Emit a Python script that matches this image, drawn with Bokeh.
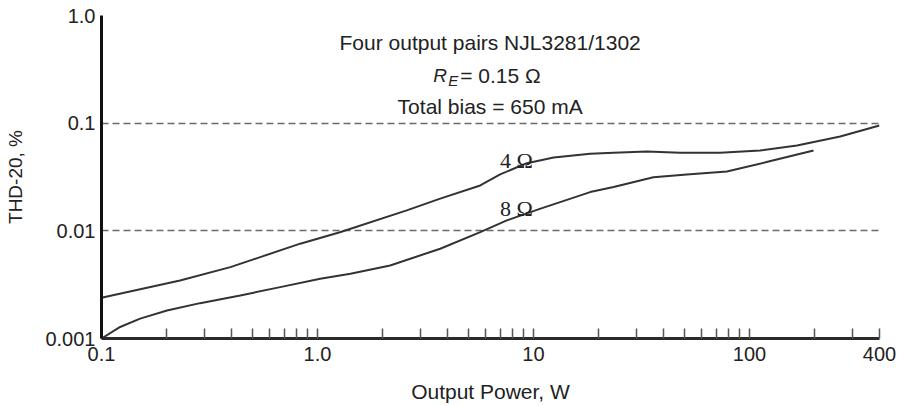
from bokeh.plotting import figure
from bokeh.models import FixedTicker, Range1d
from bokeh.embed import file_html
from bokeh.resources import INLINE
from bokeh.core.properties import value

# ---- data ----
power_4ohm = [0.1, 0.231, 0.395, 0.543, 0.832, 1.27, 2.59, 3.70, 5.67, 7.01, 8.08, 9.32,
              12.4, 18.3, 23.5, 33.5, 47.8, 73.2, 112, 166, 263, 400]
thd_4ohm = [0.00239, 0.00346, 0.0046, 0.0057, 0.0076, 0.0097, 0.0155, 0.0199, 0.0264,
            0.0335, 0.0377, 0.0425, 0.048, 0.052, 0.0531, 0.0546, 0.0531, 0.0531,
            0.0558, 0.0621, 0.0752, 0.0952]
power_8ohm = [0.1, 0.122, 0.151, 0.201, 0.286, 0.439, 0.672, 1.03, 1.42, 2.17, 3.70,
              5.67, 7.53, 10.7, 18.3, 23.5, 35.9, 51.3, 78.6, 120, 198]
thd_8ohm = [0.001, 0.00128, 0.00153, 0.00182, 0.00213, 0.00251, 0.0030, 0.00359,
            0.0040, 0.00477, 0.00682, 0.00973, 0.0125, 0.016, 0.0229, 0.0255, 0.0315,
            0.0334, 0.0356, 0.0435, 0.0558]

x_major_ticks = [0.1, 1, 10, 100, 400]
x_major_labels = ["0.1", "1.0", "10", "100", "400"]
x_minor_ticks = [0.2, 0.3, 0.4, 0.5, 0.6, 0.7, 0.8, 0.9,
                 2, 3, 4, 5, 6, 7, 8, 9,
                 20, 30, 40, 50, 60, 70, 80, 90,
                 200, 300]
y_major_ticks = [0.001, 0.01, 0.1, 1.0]
y_major_labels = ["0.001", "0.01", "0.1", "1.0"]
y_grid_ticks = [0.01, 0.1, 1.0]

note_x = [6.3, 6.3]
note_y = [0.565, 0.143]
note_text = ["Four output pairs NJL3281/1302", "Total bias = 650 mA"]
curve_label_x = [7.0, 7.0]
curve_label_y = [0.045, 0.016]
curve_label_text = ["4 \u03a9", "8 \u03a9"]

SANS = "Liberation Sans"
INK = "#222222"

p = figure(width=897, height=406, x_axis_type="log", y_axis_type="log",
           x_range=Range1d(0.1, 400), y_range=Range1d(0.001, 1.0),
           output_backend="svg", toolbar_location=None,
           min_border_left=101, min_border_right=18, min_border_top=15,
           min_border_bottom=68)
p.outline_line_color = None
p.background_fill_color = "white"
p.border_fill_color = "white"

# grid
p.xgrid.visible = False
p.ygrid.ticker = FixedTicker(ticks=y_grid_ticks)
p.ygrid.grid_line_color = "#6a6a6a"
p.ygrid.grid_line_dash = "7 4"
p.ygrid.grid_line_width = 1.5

# x axis
xa = p.xaxis[0]
xa.ticker = FixedTicker(ticks=x_major_ticks, minor_ticks=x_minor_ticks)
xa.major_label_overrides = {t: s for t, s in zip(x_major_ticks, x_major_labels)}
xa.axis_line_width = 3
xa.axis_line_color = "#2a2a2a"
xa.major_tick_in = 10
xa.major_tick_out = 0
xa.minor_tick_in = 10
xa.minor_tick_out = 0
xa.major_tick_line_color = "#555555"
xa.minor_tick_line_color = "#555555"
xa.major_tick_line_width = 1.5
xa.minor_tick_line_width = 1.5
xa.major_label_text_font = SANS
xa.major_label_text_font_size = "20px"
xa.major_label_text_color = INK
xa.major_label_standoff = 8
xa.axis_label = "Output Power, W"
xa.axis_label_text_font = SANS
xa.axis_label_text_font_size = "21px"
xa.axis_label_text_font_style = "normal"
xa.axis_label_text_color = INK
xa.axis_label_standoff = 16

# y axis
ya = p.yaxis[0]
ya.ticker = FixedTicker(ticks=y_major_ticks)
ya.major_label_overrides = {t: s for t, s in zip(y_major_ticks, y_major_labels)}
ya.axis_line_width = 3
ya.axis_line_color = "#111111"
ya.major_tick_in = 0
ya.major_tick_out = 0
ya.minor_tick_line_color = None
ya.major_label_text_font = SANS
ya.major_label_text_font_size = "20px"
ya.major_label_text_color = INK
ya.major_label_standoff = 6
ya.axis_label = "THD-20, %"
ya.axis_label_text_font = SANS
ya.axis_label_text_font_size = "19px"
ya.axis_label_text_font_style = "normal"
ya.axis_label_text_color = INK
ya.axis_label_standoff = 16

# curves
p.line(power_4ohm, thd_4ohm, line_color="#333333", line_width=2)
p.line(power_8ohm, thd_8ohm, line_color="#333333", line_width=2)

# annotations
p.text(x=note_x, y=note_y, text=note_text, text_font=value(SANS),
       text_font_size="21px", text_align="center", text_baseline="alphabetic",
       text_color=INK)
p.text(x=[6.3], y=[0.277], text=["R"], text_font=value(SANS), text_font_style="italic",
       text_font_size="19px", text_align="left", text_baseline="alphabetic",
       text_color=INK, x_offset=-57)
p.text(x=[6.3], y=[0.249], text=["E"], text_font=value(SANS), text_font_style="italic",
       text_font_size="15px", text_align="left", text_baseline="alphabetic",
       text_color=INK, x_offset=-42)
p.text(x=[6.3], y=[0.277], text=["= 0.15 \u03a9"], text_font=value(SANS),
       text_font_size="21px", text_align="left", text_baseline="alphabetic",
       text_color=INK, x_offset=-30)
p.text(x=curve_label_x, y=curve_label_y, text=curve_label_text,
       text_font=value("Liberation Serif"), text_font_size="22px",
       text_align="left", text_baseline="alphabetic", text_color=INK)

open("out.html", "w").write(file_html(p, INLINE))
